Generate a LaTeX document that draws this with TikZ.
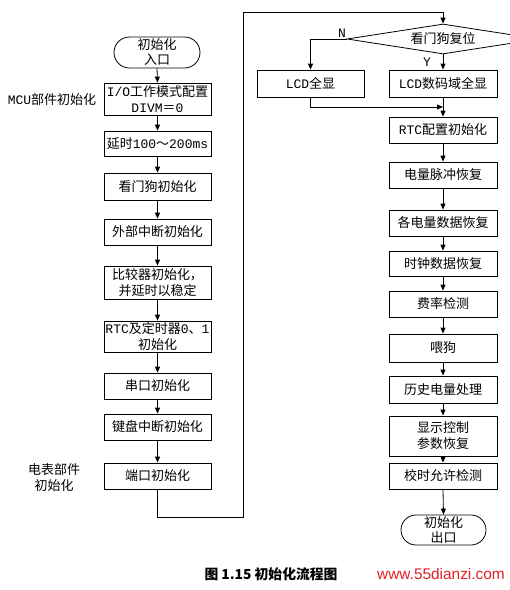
\documentclass[tikz,border=0pt]{standalone}
\usepackage{fontspec}
\setmainfont{Noto Sans CJK SC}
\newfontfamily\lat{Liberation Mono}
\newfontfamily\wm{Liberation Sans}
\usetikzlibrary{arrows.meta,shapes.misc,shapes.geometric}
\definecolor{wmred}{RGB}{228,32,40}
\begin{document}
\begin{tikzpicture}[x=1pt,y=-1pt,
  every node/.style={font=\fontsize{13}{16}\selectfont},
  box/.style={draw, line width=0.8pt, rectangle, minimum width=107pt, inner sep=0pt, align=center},
  term/.style={draw, line width=0.8pt, rounded rectangle, inner sep=0pt, align=center, font=\fontsize{13}{15}\selectfont},
  arr/.style={line width=0.8pt, -{Triangle[length=6pt,width=5pt]}},
  ln/.style={line width=0.8pt}]
\fill[white] (0,0) rectangle (510,590);
\useasboundingbox (0,0) rectangle (510,590);

% left column
\node[term, minimum width=86pt, minimum height=31pt] (start) at (157,52.5) {初始化\\入口};
\node[box, minimum height=32pt] (b1) at (157.5,99) {{\lat I/O}工作模式配置\\{\lat DIVM}＝{\lat 0}};
\node[box, minimum height=25pt] (b2) at (157.5,143.5) {延时{\lat 100}～{\lat 200ms}};
\node[box, minimum height=27pt] (b3) at (157.5,186.5) {看门狗初始化};
\node[box, minimum height=26pt] (b4) at (157.5,232) {外部中断初始化};
\node[box, minimum height=33pt] (b5) at (157.5,282.5) {比较器初始化，\\并延时以稳定};
\node[box, minimum height=31pt] (b6) at (157.5,336.5) {{\lat RTC}及定时器{\lat 0}、{\lat 1}\\初始化};
\node[box, minimum height=26pt] (b7) at (157.5,386) {串口初始化};
\node[box, minimum height=26pt] (b8) at (157.5,427) {键盘中断初始化};
\node[box, minimum height=26pt] (b9) at (157.5,476) {端口初始化};

\node (lmcu) at (52,100) {{\lat MCU}部件初始化};
\node[align=center] (lmeter) at (54,478) {电表部件\\初始化};

\draw[arr] (start.south) -- (b1.north);
\draw[arr] (b1.south) -- (b2.north);
\draw[arr] (b2.south) -- (b3.north);
\draw[arr] (b3.south) -- (b4.north);
\draw[arr] (b4.south) -- (b5.north);
\draw[arr] (b5.south) -- (b6.north);
\draw[arr] (b6.south) -- (b7.north);
\draw[arr] (b7.south) -- (b8.north);
\draw[arr] (b8.south) -- (b9.north);

% right column
\node[draw, diamond, line width=0.8pt, minimum width=192pt, minimum height=30pt, shape aspect=6.4, inner sep=0pt] (d) at (443,39) {看门狗复位};
\node[box, minimum height=27pt] (lcdA) at (310.5,83.5) {{\lat LCD}全显};
\node[box, minimum width=108pt, minimum height=27pt] (lcdB) at (443,83.5) {{\lat LCD}数码域全显};
\node[box, minimum width=108pt, minimum height=26pt] (r1) at (443,130) {{\lat RTC}配置初始化};
\node[box, minimum width=108pt, minimum height=26pt] (r2) at (443,175) {电量脉冲恢复};
\node[box, minimum width=108pt, minimum height=26pt] (r3) at (443,223) {各电量数据恢复};
\node[box, minimum width=108pt, minimum height=25pt] (r4) at (443,263.5) {时钟数据恢复};
\node[box, minimum width=108pt, minimum height=26pt] (r5) at (443,304) {费率检测};
\node[box, minimum width=108pt, minimum height=28pt] (r6) at (443,348) {喂狗};
\node[box, minimum width=108pt, minimum height=27pt] (r7) at (443,389.5) {历史电量处理};
\node[box, minimum width=108pt, minimum height=40pt] (r8) at (443,436) {显示控制\\参数恢复};
\node[box, minimum width=108pt, minimum height=26pt] (r9) at (443,476) {校时允许检测};
\node[term, minimum width=85pt, minimum height=30pt] (stop) at (443.5,530) {初始化\\出口};

\node (lN) at (342,33) {\lat N};
\node (lY) at (427,62) {\lat Y};

\coordinate (lb) at (157.5,517);
\coordinate (lr) at (243,517);
\coordinate (lt) at (243,12);
\coordinate (ld) at (443,12);
\coordinate (mg) at (443,107);

\draw[arr] (b9.south) -- (lb) -- (lr) -- (lt) -- (ld) -- (d.north);
\draw[arr] (d.west) -| (lcdA.north);
\draw[arr] (d.south) -- (lcdB.north);
\draw[arr] (lcdA.south) |- (mg);
\draw[arr] (lcdB.south) -- (r1.north);
\draw[arr] (r1.south) -- (r2.north);
\draw[arr] (r2.south) -- (r3.north);
\draw[arr] (r3.south) -- (r4.north);
\draw[arr] (r4.south) -- (r5.north);
\draw[arr] (r5.south) -- (r6.north);
\draw[arr] (r6.south) -- (r7.north);
\draw[arr] (r7.south) -- (r8.north);
\draw[arr] (r8.south) -- (r9.north);
\draw[arr] (r9.south) -- (stop.north);

% caption
\node (cap) at (271,574) {\fontsize{13.8}{14}\selectfont\bfseries 图 1.15 初始化流程图};
\node[text=wmred] (wmk) at (441,574) {\wm\fontsize{15.4}{15.4}\selectfont www.55dianzi.com};
\end{tikzpicture}
\end{document}
